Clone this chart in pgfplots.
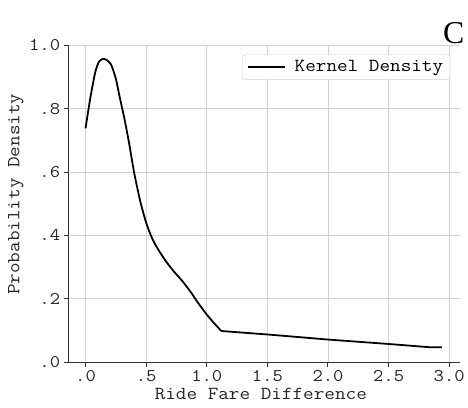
\documentclass[border=0pt]{standalone}
\usepackage{pgfplots}
\pgfplotsset{compat=1.18}
\usepackage{fontspec}
\setmainfont{Latin Modern Mono}[FakeStretch=1.12]
\newfontfamily\serifC{Liberation Serif}
\begin{document}
\begin{tikzpicture}
\begin{axis}[
  scale only axis,
  width=394pt, height=318.6pt,
  xmin=-0.14, xmax=3.09, ymin=0, ymax=1,
  axis x line*=bottom, axis y line*=left,
  axis line style={black!80, line width=1pt, -},
  tick align=outside,
  major tick length=5pt,
  tick style={black!80, line width=1pt},
  xtick={0,0.5,1,1.5,2,2.5,3},
  xticklabels={.0,.5,1.0,1.5,2.0,2.5,3.0},
  ytick={0,0.2,0.4,0.6,0.8,1.0},
  yticklabels={.0,.2,.4,.6,.8,1.0},
  /pgf/number format/assume math mode=true,
  ticklabel style={font=\fontsize{18}{18}\selectfont, text=black!85},
  grid=major,
  major grid style={gray!35, line width=0.9pt},
  xlabel={Ride Fare Difference},
  ylabel={Probability Density},
  label style={font=\fontsize{18.5}{19}\selectfont, text=black!85},
  xlabel style={at={(axis description cs:0.491,-0.10)}, anchor=center},
  ylabel style={at={(axis description cs:-0.1345,0.53)}, anchor=center, rotate=0},
  legend style={at={(axis description cs:0.975,0.971)}, anchor=north east,
    draw=gray!40, rounded corners=3pt, font=\fontsize{18.5}{19}\selectfont,
    inner xsep=5pt, inner ysep=4pt},
  legend image code/.code={\draw[#1] (0pt,0pt) -- (37pt,0pt); \path (44pt,0pt);},
  legend cell align=left,
  clip=false,
]
\addplot[black, line width=1.8pt, smooth, tension=0.4] coordinates {
(0.0,0.738) (0.04,0.835) (0.08,0.915) (0.11,0.948) (0.14,0.957) (0.17,0.955)
(0.21,0.94) (0.25,0.895) (0.28,0.84) (0.32,0.77) (0.36,0.69) (0.40,0.60)
(0.45,0.51) (0.50,0.44) (0.55,0.39) (0.60,0.355) (0.66,0.32) (0.72,0.29)
(0.80,0.255) (0.87,0.22) (0.93,0.186) (1.00,0.15) (1.06,0.123) (1.12,0.098)
};
\addlegendentry{Kernel Density}
\addplot[black, line width=1.8pt, forget plot] coordinates {
(1.12,0.098) (1.5,0.087) (2.0,0.071) (2.5,0.057) (2.83,0.047) (2.94,0.047)
};
\node[font=\serifC\fontsize{32}{32}\selectfont, anchor=center] at (axis description cs:0.984,1.04) {C};
\path (axis description cs:-0.1751,-0.1434) rectangle (axis description cs:1.0127,1.1434);
\end{axis}
\end{tikzpicture}
\end{document}
